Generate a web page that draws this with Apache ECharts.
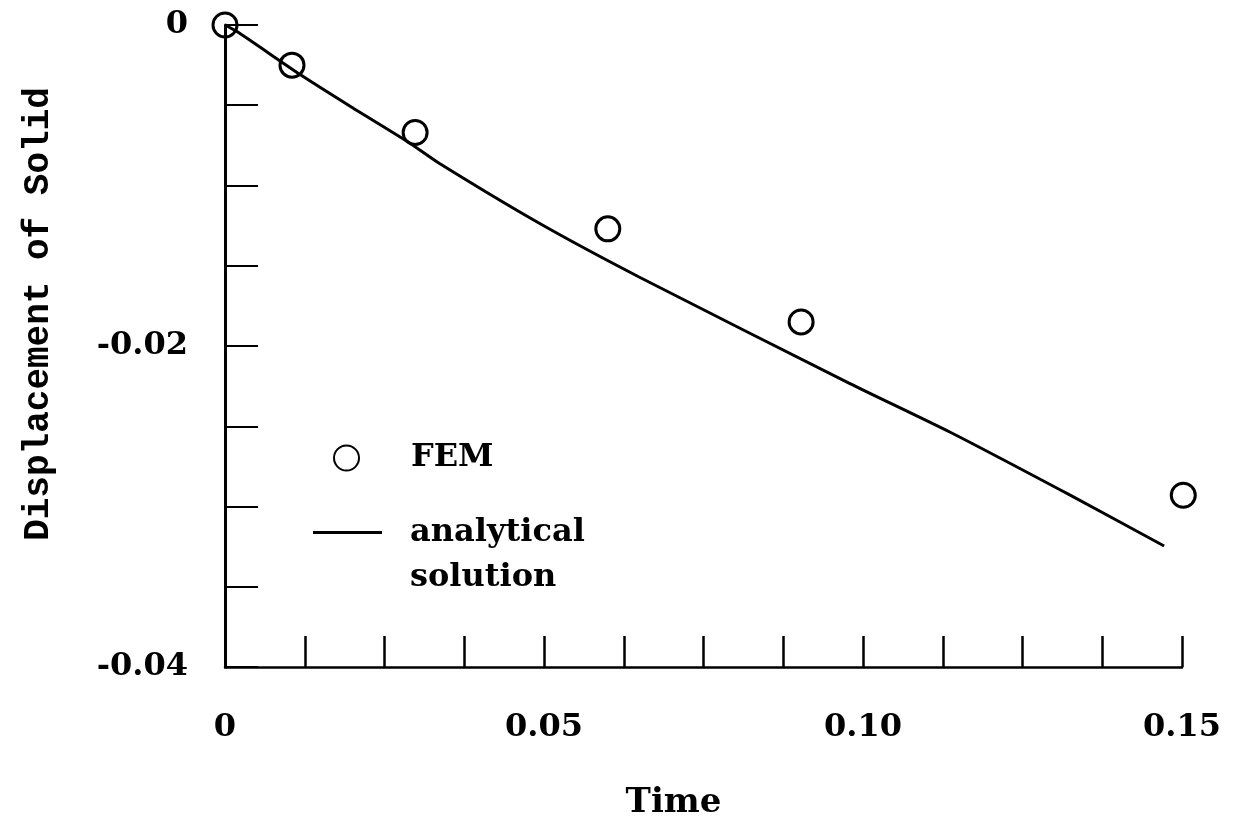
<!DOCTYPE html>
<html>
<head>
<meta charset="utf-8">
<script src="https://cdn.jsdelivr.net/npm/echarts@6/dist/echarts.min.js"></script>
<style>
html,body{margin:0;padding:0;background:#fff;}
#chart{width:1238px;height:825px;}
</style>
</head>
<body>
<div id="chart"></div>
<script>
// FEM results (hollow circles)
const femTime = [0, 0.0105, 0.0298, 0.0600, 0.0903, 0.1502];
const femDisp = [0, -0.0025, -0.0067, -0.0127, -0.0185, -0.0293];
// Analytical solution (solid line)
const anaTime = [0, 0.0020, 0.0119, 0.0198, 0.0287, 0.0335, 0.0492, 0.0649, 0.0978, 0.1136, 0.1324, 0.1472];
const anaDisp = [0, -0.00044, -0.00312, -0.00511, -0.00729, -0.00860, -0.01234, -0.01570, -0.02231, -0.02536, -0.02928, -0.03246];
// Tick labels
const xLabelValues = [0, 0.05, 0.10, 0.15];
const xLabelTexts = ['0', '0.05', '0.10', '0.15'];
const yLabelValues = [0, -0.02, -0.04];
const yLabelTexts = ['0', '-0.02', '-0.04'];
const seriesNames = ['FEM', 'analytical solution'];
const legendTexts = ['FEM', ' \nanalytical\nsolution'];

function pickLabel(v, vals, texts) {
  for (let i = 0; i < vals.length; i++) {
    if (Math.abs(v - vals[i]) < 1e-9) return texts[i];
  }
  return '';
}

const serif = 'DejaVu Serif';
const chart = echarts.init(document.getElementById('chart'), null, {renderer: 'canvas'});
chart.setOption({
  animation: false,
  backgroundColor: '#ffffff',
  grid: {left: 225, right: 56, top: 25, bottom: 158, containLabel: false},
  xAxis: {
    type: 'value', min: 0, max: 0.15, interval: 0.0125,
    name: 'Time', nameLocation: 'middle', nameGap: 119,
    nameTextStyle: {fontFamily: serif, fontWeight: 'bold', fontSize: 34, color: '#000', padding: [0, 60, 0, 0]},
    axisLine: {show: true, onZero: false, lineStyle: {color: '#000', width: 2.5}},
    axisTick: {show: true, inside: true, length: 31, lineStyle: {color: '#000', width: 2.5}},
    axisLabel: {
      margin: 45, fontFamily: serif, fontWeight: 'bold', fontSize: 32, color: '#000',
      formatter: v => pickLabel(v, xLabelValues, xLabelTexts)
    },
    splitLine: {show: false}
  },
  yAxis: {
    type: 'value', min: -0.04, max: 0, interval: 0.005,
    name: 'Displacement of Solid', nameLocation: 'middle', nameRotate: 90, nameGap: 168,
    nameTextStyle: {fontFamily: 'Liberation Mono', fontWeight: 'bold', fontSize: 36, color: '#000', padding: [0, 0, 0, 64]},
    axisLine: {show: true, onZero: false, lineStyle: {color: '#000', width: 3}},
    axisTick: {show: true, inside: true, length: 33, lineStyle: {color: '#000', width: 2}},
    axisLabel: {
      margin: 37, fontFamily: serif, fontWeight: 'bold', fontSize: 32, color: '#000',
      formatter: v => pickLabel(v, yLabelValues, yLabelTexts)
    },
    splitLine: {show: false}
  },
  legend: [
    {
      data: [seriesNames[0]], left: 328, top: 435, orient: 'vertical',
      itemWidth: 25, itemHeight: 25,
      formatter: () => legendTexts[0],
      textStyle: {fontFamily: serif, fontWeight: 'bold', fontSize: 32, color: '#000', lineHeight: 36, padding: [0, 0, 0, 47]}
    },
    {
      data: [{name: seriesNames[1], icon: 'rect'}], left: 308, top: 460, orient: 'vertical',
      itemWidth: 69, itemHeight: 3,
      formatter: () => legendTexts[1],
      itemStyle: {color: '#000'},
      textStyle: {fontFamily: serif, fontWeight: 'bold', fontSize: 32, color: '#000', lineHeight: 45, padding: [0, 0, 0, 23]}
    }
  ],
  series: [
    {
      name: seriesNames[1], type: 'line', smooth: 0.2, showSymbol: false, symbol: 'none',
      data: anaTime.map((t, i) => [t, anaDisp[i]]),
      lineStyle: {color: '#000', width: 3},
      itemStyle: {color: '#000'},
      z: 2
    },
    {
      name: seriesNames[0], type: 'scatter', symbol: 'circle', symbolSize: 24,
      data: femTime.map((t, i) => [t, femDisp[i]]),
      itemStyle: {color: 'rgba(0,0,0,0)', borderColor: '#000', borderWidth: 3, opacity: 1},
      clip: false,
      z: 3
    }
  ]
});
</script>
</body>
</html>
